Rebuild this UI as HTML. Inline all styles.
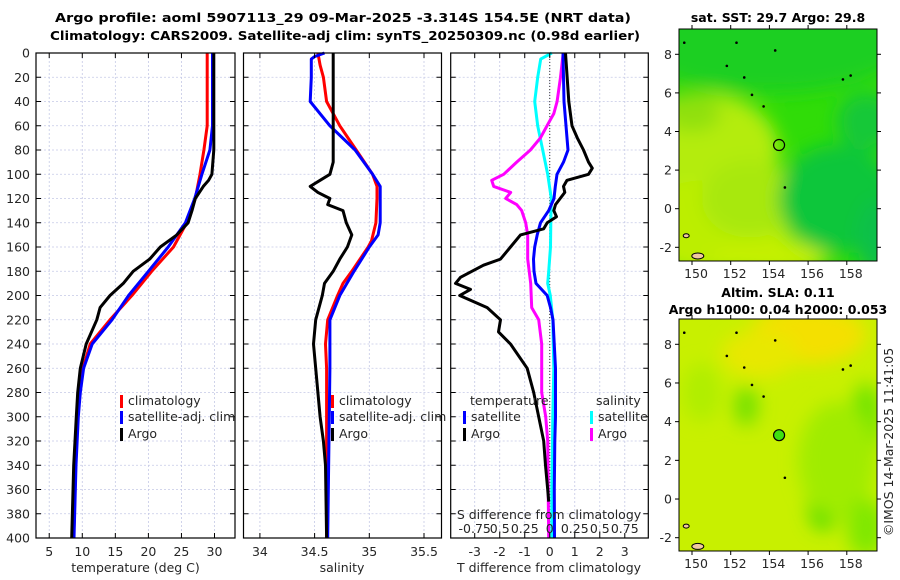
<!DOCTYPE html>
<html><head><meta charset="utf-8">
<style>
body{margin:0;background:#fff;}
svg{display:block;font-family:"DejaVu Sans","Liberation Sans",sans-serif;}
.t{font-size:12.5px;fill:#262626;}
.b{font-size:12.5px;font-weight:bold;fill:#000;}
</style></head>
<body>
<svg id="c" width="900" height="580" viewBox="0 0 900 580">
<defs>
<filter id="bl" x="-20%" y="-20%" width="140%" height="140%"><feGaussianBlur stdDeviation="9"/></filter>
<clipPath id="cm1"><rect x="679" y="29" width="198" height="232"/></clipPath>
<clipPath id="cm2"><rect x="679" y="319" width="198" height="232"/></clipPath>
</defs>
<text class="b" x="55" y="22" textLength="576" lengthAdjust="spacingAndGlyphs">Argo profile: aoml 5907113_29 09-Mar-2025 -3.314S 154.5E (NRT data)</text>
<text class="b" x="50" y="40" textLength="590" lengthAdjust="spacingAndGlyphs">Climatology: CARS2009. Satellite-adj clim: synTS_20250309.nc (0.98d earlier)</text>
<g id="maps"></g>
<g id="plots"></g>
</svg>
<script>
// ---------- data ----------
const depthT = [0,60,80,100,105,110,120,130,140,150,160,170,180,190,200,210,220,240,260,280,300,340,400];
const tempArgo = [29.9,29.9,29.9,29.6,29.1,28.3,27.1,26.6,26.0,24.3,21.8,20.2,17.7,16.2,14.2,12.7,12.2,10.6,9.7,9.3,9.1,8.7,8.4];
const depthC = [0,60,80,100,120,140,160,180,200,220,240,260,280,300,340,400];
const tempClim = [28.9,28.9,28.4,27.8,27.1,25.8,23.8,20.5,17.5,14.2,11.2,10.1,9.6,9.3,9.0,8.7];
const tempSat = [29.7,29.7,29.3,28.1,27.0,25.6,23.0,20.0,17.0,14.5,11.5,10.2,9.7,9.4,9.05,8.75];
const depthS = [0,20,40,60,80,90,100,105,110,115,120,125,130,140,150,160,170,180,190,200,220,240,260,280,300,320,340,400];
const salArgo = [34.67,34.67,34.67,34.67,34.67,34.67,34.64,34.55,34.46,34.53,34.64,34.62,34.76,34.79,34.84,34.80,34.73,34.67,34.59,34.57,34.51,34.49,34.51,34.53,34.55,34.58,34.60,34.61];
const depthSC = [0,10,20,40,50,60,80,100,110,120,140,155,160,180,190,200,220,240,260,400];
const salClim = [34.53,34.55,34.58,34.61,34.67,34.73,34.88,35.03,35.07,35.07,35.06,35.02,34.99,34.84,34.76,34.71,34.62,34.60,34.61,34.61];
const depthSS = [0,3,5,20,40,60,80,100,110,120,140,150,160,180,200,220,240,260,400];
const salSat = [34.59,34.50,34.47,34.47,34.46,34.64,34.87,35.03,35.10,35.10,35.10,35.08,35.00,34.86,34.73,34.64,34.64,34.64,34.62];
const depthD = [0,40,60,70,80,90,95,100,105,110,115,125,130,135,140,145,150,160,170,175,185,190,195,200,210,220,230,240,260,280,300,320,340,360,370];
const dTArgo = [0.63,0.76,0.89,1.1,1.35,1.55,1.7,1.55,0.69,0.55,0.6,0.23,0.16,0.27,-0.1,-0.24,-1.17,-1.57,-1.97,-2.65,-3.57,-3.77,-3.17,-3.6,-2.5,-1.97,-2.05,-1.57,-0.9,-0.64,-0.44,-0.24,-0.17,-0.08,-0.04];
const depthDS = [0,20,40,60,80,90,100,110,120,130,140,150,160,170,180,190,200,210,220,260,300,320,360,400];
const dTSat = [0.53,0.55,0.57,0.65,0.73,0.55,0.29,0.22,0.17,-0.04,-0.37,-0.5,-0.6,-0.65,-0.63,-0.55,-0.1,0.03,0.13,0.23,0.23,0.2,0.18,0.19];
const depthM = [0,20,40,50,60,70,80,90,100,105,110,115,120,125,130,140,150,170,190,210,220,240,280,300,320,400];
const dSArgo = [0.134,0.107,0.073,0.04,-0.027,-0.093,-0.193,-0.33,-0.46,-0.58,-0.56,-0.39,-0.44,-0.33,-0.28,-0.24,-0.22,-0.22,-0.19,-0.18,-0.11,-0.08,-0.08,-0.04,-0.02,-0.01];
const depthCy = [0,5,20,40,60,80,100,120,140,160,180,190,200,220,260,300,360,400];
const dSSat = [0.02,-0.09,-0.12,-0.15,-0.12,-0.07,-0.02,0.015,0.01,0.007,-0.01,-0.02,0.005,0.03,0.04,0.03,0.02,0.02];
const depthTicks = [0,20,40,60,80,100,120,140,160,180,200,220,240,260,280,300,320,340,360,380,400];
const tempTicks = [5,10,15,20,25,30];
const salTicks = [34,34.5,35,35.5];
const dTTicks = [-3,-2,-1,0,1,2,3];
const dSTicks = [-0.75,-0.5,-0.25,0,0.25,0.5,0.75];
const dSTickLabels = ["-0.75","0.5","0.25","0","0.25","0.5","0.75"];
const lonTicks = [150,152,154,156,158];
const latTicks = [-2,0,2,4,6,8];
const argoLon = 154.5, argoLat = 3.3;

// ---------- helpers ----------
const NS = "http://www.w3.org/2000/svg";
const root = document.getElementById('plots');
const mapsG = document.getElementById('maps');
function mk(tag, attrs, parent){const e=document.createElementNS(NS,tag);for(const k in attrs)e.setAttribute(k,attrs[k]);(parent||root).appendChild(e);return e;}
const Y0=53, Y1=538;
const yD = d => Y0 + (d/400)*(Y1-Y0);

function panel(name, x0, x1, dmin, dmax, ticks){
  const g = mk('g',{});
  
  
  const xs = v => x0 + (v-dmin)/(dmax-dmin)*(x1-x0);
  ticks.forEach(t=>{ mk('line',{x1:xs(t),x2:xs(t),y1:Y0,y2:Y1,stroke:'#c5c9e6','stroke-width':0.8,'stroke-dasharray':'2,2'},g); });
  depthTicks.forEach(d=>{ mk('line',{x1:x0,x2:x1,y1:yD(d),y2:yD(d),stroke:'#c5c9e6','stroke-width':0.8,'stroke-dasharray':'2,2'},g); });
  return {g, xs};
}
function frame(g, x0, x1, xs, ticks, labels, showY, labelY){
  mk('rect',{x:x0,y:Y0,width:x1-x0,height:Y1-Y0,fill:'none',stroke:'#000','stroke-width':1.2},g);
  depthTicks.forEach(d=>{
    mk('line',{x1:x0,x2:x0+5,y1:yD(d),y2:yD(d),stroke:'#000'},g);
    mk('line',{x1:x1-5,x2:x1,y1:yD(d),y2:yD(d),stroke:'#000'},g);
    if(showY){const t=mk('text',{x:x0-6,y:yD(d)+4.5,'text-anchor':'end','class':'t'},g);t.textContent=d;
      }
  });
  ticks.forEach((tv,i)=>{
    mk('line',{x1:xs(tv),x2:xs(tv),y1:Y0,y2:Y0+5,stroke:'#000'},g);
    mk('line',{x1:xs(tv),x2:xs(tv),y1:Y1-5,y2:Y1,stroke:'#000'},g);
    const t=mk('text',{x:xs(tv),y:labelY,'text-anchor':'middle','class':'t'},g);t.textContent=labels[i];
    
  });
}
function line(g, xs, depths, vals, color, name, w){
  const pts = depths.map((d,i)=>xs(vals[i]).toFixed(1)+','+yD(d).toFixed(1)).join(' ');
  const p = mk('polyline',{points:pts,fill:'none',stroke:color,'stroke-width':w||3,'stroke-linejoin':'round'},g);
  
  
}
function txt(g,x,y,s,name,anchor){const t=mk('text',{x:x,y:y,'class':'t','text-anchor':anchor||'start'},g);t.textContent=s;
  return t;}
function legMark(g,x,y,color){const r=mk('rect',{x:x,y:y-10,width:3,height:13,fill:color},g);
  }

// ---------- panel 1: temperature ----------
(function(){
  const x0=36,x1=235;
  const {g,xs}=panel('temperature-panel',x0,x1,3,33.1,tempTicks);
  line(g,xs,depthC,tempClim,'#ff0000','temp-climatology-line');
  line(g,xs,depthC,tempSat,'#0000ff','temp-satellite-line');
  line(g,xs,depthT,tempArgo,'#000000','temp-argo-line');
  frame(g,x0,x1,xs,tempTicks,tempTicks.map(String),true,556);
  txt(g,135.5,572,'temperature (deg C)','x-axis-title','middle');
  legMark(g,120,405,'#ff0000');txt(g,128,405,'climatology','legend-climatology');
  legMark(g,120,421,'#0000ff');txt(g,128,421,'satellite-adj. clim','legend-satellite');
  legMark(g,120,438,'#000');txt(g,128,438,'Argo','legend-argo');
})();
// ---------- panel 2: salinity ----------
(function(){
  const x0=243.5,x1=441.5;
  const {g,xs}=panel('salinity-panel',x0,x1,33.85,35.66,salTicks);
  line(g,xs,depthSC,salClim,'#ff0000','sal-climatology-line');
  line(g,xs,depthSS,salSat,'#0000ff','sal-satellite-line');
  line(g,xs,depthS,salArgo,'#000000','sal-argo-line');
  frame(g,x0,x1,xs,salTicks,['34','34.5','35','35.5'],false,556);
  txt(g,342,572,'salinity','x-axis-title','middle');
  legMark(g,331,405,'#ff0000');txt(g,339,405,'climatology','legend-climatology');
  legMark(g,331,421,'#0000ff');txt(g,339,421,'satellite-adj. clim','legend-satellite');
  legMark(g,331,438,'#000');txt(g,339,438,'Argo','legend-argo');
})();
// ---------- panel 3: differences ----------
(function(){
  const x0=450.7,x1=648.3;
  const {g,xs}=panel('difference-panel',x0,x1,-3.96,3.94,dTTicks);
  const xsS = v => xs(v*4);
  mk('line',{x1:xs(0),x2:xs(0),y1:Y0,y2:Y1,stroke:'#333','stroke-width':1,'stroke-dasharray':'1,2'},g);
  line(g,xsS,depthCy,dSSat,'#00ffff','sal-diff-satellite-line');
  line(g,xsS,depthM,dSArgo,'#ff00ff','sal-diff-argo-line');
  line(g,xs,depthDS,dTSat,'#0000ff','temp-diff-satellite-line');
  line(g,xs,depthD,dTArgo,'#000000','temp-diff-argo-line');
  frame(g,x0,x1,xs,dTTicks,dTTicks.map(String),false,556);
  dSTicks.forEach((v,i)=>txt(g,xsS(v),533,dSTickLabels[i],'s-tick-label','middle'));
  txt(g,549,519,'S difference from climatology','s-axis-title','middle');
  txt(g,549,572,'T difference from climatology','x-axis-title','middle');
  txt(g,470,405,'temperature','legend-temperature-heading');
  legMark(g,463,421,'#0000ff');txt(g,471,421,'satellite','legend-temp-satellite');
  legMark(g,463,438,'#000');txt(g,471,438,'Argo','legend-temp-argo');
  txt(g,596,405,'salinity','legend-salinity-heading');
  legMark(g,590,421,'#00ffff');txt(g,598,421,'satellite','legend-sal-satellite');
  legMark(g,590,438,'#ff00ff');txt(g,598,438,'Argo','legend-sal-argo');
})();

// ---------- maps ----------
function map(name, top, bottom, lat8y, latm2y, clipId, base, blobs, circleFill, titles){
  const g = mk('g',{},mapsG);
  
  
  const L=679,R=877;
  const lx = lon => 692 + (lon-150)*19.35;
  const ly = lat => lat8y + (8-lat)*(latm2y-lat8y)/10;
  const cg = mk('g',{'clip-path':'url(#'+clipId+')'},g);
  mk('rect',{x:L,y:top,width:R-L,height:bottom-top,fill:base},cg);
  const bg = mk('g',{filter:'url(#bl)'},cg);
  blobs.forEach(b=>{ mk('ellipse',{cx:lx(b[0]),cy:ly(b[1]),rx:b[2]*19.35,ry:b[3]*19.35,fill:b[4]},bg); });
  [[151.8,7.4],[154.3,8.2],[158.2,6.9],[157.8,6.7],[149.6,8.6],[152.3,8.6],[153.1,5.9],[153.7,5.3],[154.8,1.1],[152.7,6.8]].forEach(p=>{
    mk('circle',{cx:lx(p[0]),cy:ly(p[1]),r:1.3,fill:'#000'},cg);});
  mk('ellipse',{cx:lx(149.7),cy:ly(-1.4),rx:3,ry:2,fill:'#f0c8a0',stroke:'#000'},cg);
  mk('ellipse',{cx:lx(150.3),cy:ly(-2.45),rx:6,ry:3,fill:'#f0c8a0',stroke:'#000'},cg);
  const c=mk('circle',{cx:lx(argoLon),cy:ly(argoLat),r:5.5,fill:circleFill,stroke:'#000','stroke-width':1.2},g);
  
  
  mk('rect',{x:L,y:top,width:R-L,height:bottom-top,fill:'none',stroke:'#000','stroke-width':1},g);
  lonTicks.forEach(v=>{
    mk('line',{x1:lx(v),x2:lx(v),y1:top,y2:top-4,stroke:'#000'},g);
    mk('line',{x1:lx(v),x2:lx(v),y1:bottom,y2:bottom+4,stroke:'#000'},g);
    txt(g,lx(v)+4,bottom+17,String(v),'lon-tick-label','middle');
  });
  latTicks.forEach(v=>{
    mk('line',{x1:L,x2:L-4,y1:ly(v),y2:ly(v),stroke:'#000'},g);
    mk('line',{x1:R,x2:R+4,y1:ly(v),y2:ly(v),stroke:'#000'},g);
    txt(g,672,ly(v)+4.5,String(v),'lat-tick-label','end');
  });
  titles.forEach(t=>{const e=mk('text',{x:t[1],y:t[2],'class':'b','text-anchor':'middle'},g);e.textContent=t[0];
    });
}
map('sst-map',29,261,54.3,247.3,'cm1','#30dc08',[
  [154,8.5,7,2.5,'#1ccf22'],
  [150.5,3,4,3,'#b4ec08'],[151,-1,4,2.5,'#bcee00'],[153,0.5,2.5,2,'#a8e808'],
  [150,5,1.5,1,'#90e010'],[154,-2.5,3,1,'#c4f000'],
  [157.5,0.5,3,2.8,'#0cc63a'],[159,4.5,1.5,1.5,'#14c838'],[159.5,-1.5,1,2,'#0cc048']
],'none',[['sat. SST: 29.7 Argo: 29.8',778,22]]);
map('sla-map',319,551,344.3,537.7,'cm2','#c8f000',[
  [156,8.5,3,1.5,'#f4e000'],[153.5,7.5,2,1.2,'#e8e800'],
  [152.8,4.8,0.6,1,'#70e000'],[156.8,-0.3,0.8,1.3,'#40dc00'],[159,4,0.8,2,'#70e400'],
  [157.5,2,2,3,'#a0ec00'],[150.5,5.5,1,1.5,'#b0ee00'],[159,-1.5,1,1.5,'#80e800']
],'#40e010',[['Altim. SLA: 0.11',778,297],['Argo h1000: 0.04 h2000: 0.053',778,314]]);
(function(){
  const t=mk('text',{x:0,y:0,'class':'t','text-anchor':'middle',transform:'translate(893,442) rotate(-90)'},mapsG);
  t.textContent='©IMOS 14-Mar-2025 11:41:05';
  
  
})();
</script>
</body></html>
